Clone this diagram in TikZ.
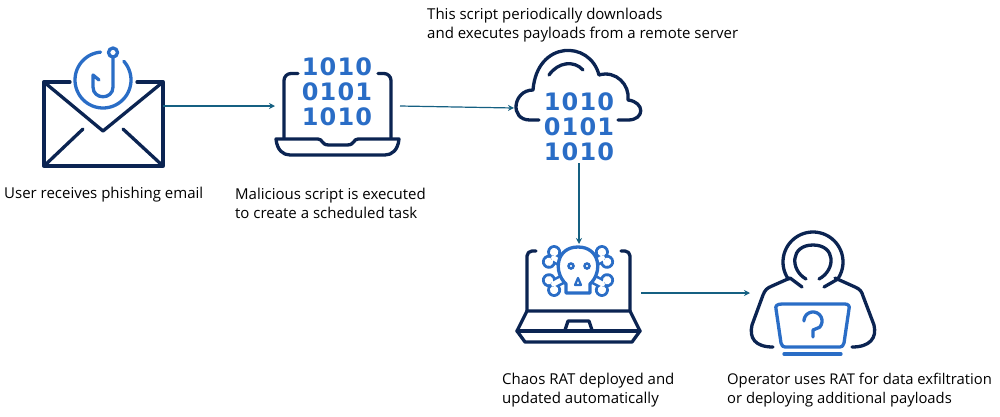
\documentclass[tikz,border=0pt]{standalone}
\usepackage{fontspec}
\setmainfont{Open Sans}
\newfontfamily\digitfont[LetterSpace=5]{DejaVu Sans Bold}
\usetikzlibrary{arrows.meta}
\usetikzlibrary{positioning}
\definecolor{navy}{HTML}{0B2452}
\definecolor{iconblue}{HTML}{2A6DC6}
\definecolor{flowteal}{HTML}{156082}
\tikzset{
  flow/.style={draw=flowteal, line width=1.2pt, -{Stealth[length=6pt,width=6pt]}},
  caption/.style={anchor=north west, align=left, inner sep=0pt, font=\fontsize{15}{19.2}\selectfont, text=black},
  digits/.style={inner sep=0pt, align=center, text=iconblue, font=\digitfont\fontsize{24}{25}\selectfont},
  navyline/.style={draw=navy, line width=3.3pt, line cap=round, line join=round},
  blueline/.style={draw=iconblue, line width=3.3pt, line cap=round, line join=round},
  bone/.pic={
    \fill[iconblue] (0,-5) rectangle (30,5);
    \fill[iconblue] (30,-5.5) circle (7) (30,5.5) circle (7);
    \fill[white] (30,-5.5) circle (4.2) (30,5.5) circle (4.2) (0,-2.4) rectangle (30,2.4);
  }
}
\begin{document}
\begin{tikzpicture}[x=1pt,y=-1pt]
\useasboundingbox (0,0) rectangle (1000,416);

% mail
\draw[navyline] (70,82) -- (44,82) -- (44,166) -- (163,166) -- (163,82) -- (137,82);
\draw[navyline] (44,82) -- (103,131) -- (163,82);
\draw[navyline] (44,166) -- (83,129);
\draw[navyline] (163,166) -- (123,129);
\draw[blueline] plot[domain=95:402, samples=60] ({103+28*cos(\x)},{80-28*sin(\x)});
\draw[blueline] (113,52.5) circle (4.5);
\draw[blueline] (113,58) -- (113,87) .. controls (113,100) and (93,100) .. (93,87) -- (93,75) -- (99,80);

% script laptop
\draw[navyline, rounded corners=7pt] (298,73.5) -- (284,73.5) -- (284,138);
\draw[navyline, rounded corners=7pt] (378,73.5) -- (391,73.5) -- (391,138);
\draw[navyline] (276,139) -- (318,139) .. controls (323,139) and (321,145) .. (329,145) -- (347,145) .. controls (355,145) and (353,139) .. (358,139) -- (399,139) .. controls (398,150) and (392,155) .. (385,155) -- (290,155) .. controls (283,155) and (277,150) .. (276,139) -- cycle;
\node[digits] (laptopbits) at (337,92) {1010\\0101\\1010};

% cloud
\draw[navyline] (539,120) -- (530,120) .. controls (509,120) and (513,90) .. (533,90) .. controls (537,40) and (590,40) .. (599,75) .. controls (616,70) and (630,85) .. (628,100) .. controls (645,102) and (645,120) .. (628,120) -- (618,120);
\draw[navyline] (549,75) .. controls (558,62) and (574,60) .. (583,70);
\node[digits] (cloudbits) at (579,127) {1010\\0101\\1010};

% skull laptop
\draw[navyline, rounded corners=5pt] (536,251) -- (527,251) -- (527,311);
\draw[navyline, rounded corners=5pt] (621,251) -- (630,251) -- (630,311);
\draw[navyline] (527,311) -- (630,311) -- (640,331) -- (632,342) -- (525,342) -- (517,331) -- cycle;
\draw[navyline] (517,331) -- (640,331);
\draw[navyline] (565,330) -- (568,321) -- (589,321) -- (592,330);
\foreach \brot in {28,152,208,332}
  \pic[rotate=\brot] at (578,271) {bone};
\draw[blueline, fill=white] (566,293) -- (590,293) -- (590,284) .. controls (603,272) and (600,247) .. (578,247) .. controls (556,247) and (553,272) .. (566,284) -- cycle;
\draw[iconblue, line width=2.5pt] (571,266) circle (2.5) (587,266) circle (2.5);
\draw[iconblue, line width=2.2pt, line join=round] (578,278) -- (575,285) -- (581,285) -- cycle;

% operator
\draw[navyline] (802,287) -- (790,278) plot[domain=215:-35, samples=60] ({813+30*cos(\x)},{262-30*sin(\x)}) -- (824,287);
\draw[navyline] (806,279) .. controls (790,270) and (790,245) .. (813,245) .. controls (836,245) and (836,270) .. (819,279);
\draw[navyline] (790,278) -- (772,286) .. controls (767,288) and (765,290) .. (763,295) -- (752,325) .. controls (749,338) and (755,347) .. (773,347);
\draw[navyline] (835,278) -- (855,287) .. controls (860,289) and (862,292) .. (863,296) -- (874,325) .. controls (877,338) and (870,347) .. (852,347);
\draw[blueline] (782,304) -- (845,304) .. controls (848,304) and (850,306) .. (849,309) -- (844,343) .. controls (843,346) and (842,347) .. (840,347) -- (785,347) .. controls (783,347) and (782,346) .. (781,343) -- (776,309) .. controls (775,306) and (777,304) .. (782,304) -- cycle;
\draw[blueline] plot[domain=180:-45, samples=40] ({813+9*cos(\x)},{321-9*sin(\x)}) -- (813,330) -- (813,337);
\draw[blueline] (784,354) -- (841,354);

% captions
\node[caption] (mailtext) at (4,187) {User receives phishing email};
\node[caption] (scripttext) at (235,188) {Malicious script is executed\\to create a scheduled task};
\node[caption] (cloudtext) at (427,7.5) {This script periodically downloads\\and executes payloads from a remote server};
\node[caption] (rattext) at (502,373) {Chaos RAT deployed and\\updated automatically};
\node[caption, font=\fontsize{14.8}{19.2}\selectfont] (operatortext) at (727,373) {Operator uses RAT for data exfiltration\\or deploying additional payloads};

% connectors
\coordinate (mailout) at (163,106);
\coordinate (laptopin) at (275,106);
\coordinate (laptopout) at (400,106);
\coordinate (cloudin) at (514,108);
\coordinate (cloudout) at (579,163);
\coordinate (ratin) at (579,244);
\coordinate (ratout) at (641,293);
\coordinate (operatorin) at (750,293);
\draw[flow] (mailout) -- (laptopin);
\draw[flow] (laptopout) -- (cloudin);
\draw[flow] (cloudout) -- (ratin);
\draw[flow] (ratout) -- (operatorin);
\end{tikzpicture}
\end{document}
